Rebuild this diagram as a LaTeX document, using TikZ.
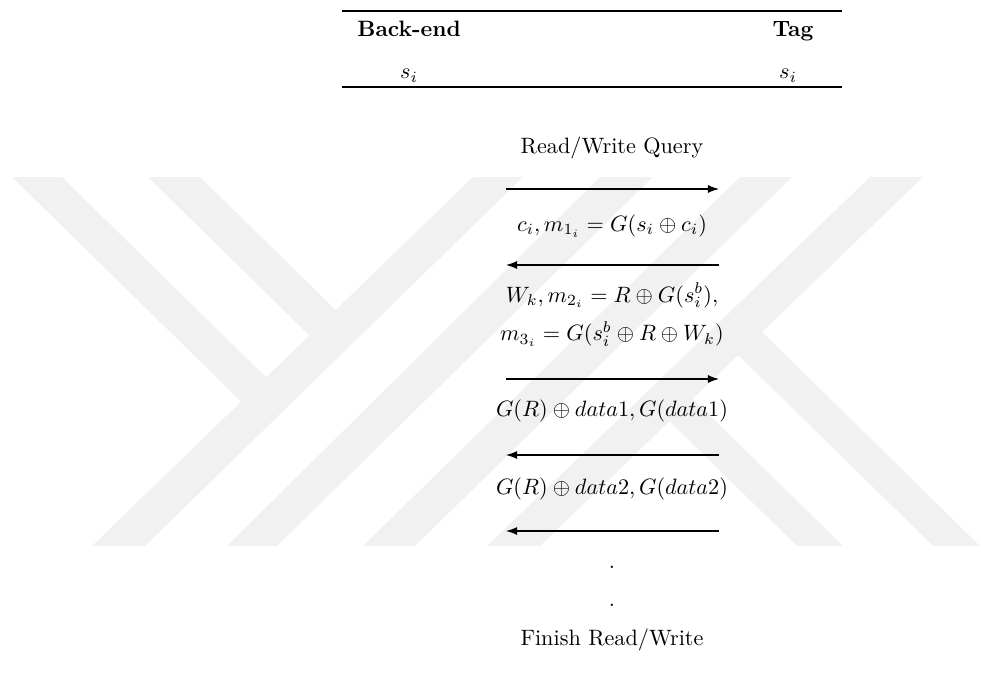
\documentclass[tikz,border=0pt]{standalone}
\usetikzlibrary{arrows.meta}
\definecolor{wm}{RGB}{241,241,241}
\begin{document}
\begin{tikzpicture}[x=0.45pt,y=-0.45pt,
  msg/.style={line width=0.5pt,-{Latex[length=5pt,width=3.6pt]}},
  lbl/.style={anchor=base,inner sep=0pt,outer sep=0pt},
  rulel/.style={line width=0.8pt},
  wmark/.style={fill=wm,draw=none}]
\useasboundingbox (0,0) rectangle (981,689);
% watermark
\fill[wmark] (92,546) -- (145,546) -- (523,177) -- (473,177) -- cycle;
\fill[wmark] (227,546) -- (277,546) -- (653,177) -- (600,177) -- cycle;
\fill[wmark] (363,546) -- (415,546) -- (792,177) -- (740,177) -- cycle;
\fill[wmark] (487,546) -- (540,546) -- (923,177) -- (870,177) -- cycle;
\fill[wmark] (12,177) -- (62,177) -- (289,400) -- (260,420) -- cycle;
\fill[wmark] (148,177) -- (200,177) -- (346,320) -- (314,340) -- cycle;
\fill[wmark] (933,546) -- (980,546) -- (750,320) -- (728,345) -- cycle;
\fill[wmark] (797,546) -- (843,546) -- (684,390) -- (663,415) -- cycle;
% table
\coordinate (tl) at (342,11); \coordinate (tr) at (842,11);
\coordinate (bl) at (342,87); \coordinate (br) at (842,87);
\draw[rulel] (tl) -- (tr);
\draw[rulel] (bl) -- (br);
\node[lbl] (hb) at (409,36.5) {\textbf{Back-end}};
\node[lbl] (ht) at (793,36.5) {\textbf{Tag}};
\node[lbl] (sb) at (409,79) {$s_i$};
\node[lbl] (st) at (788,79) {$s_i$};
% messages
\node[lbl] (q) at (612,153) {Read/Write Query};
\coordinate (a1l) at (506,189); \coordinate (a1r) at (719,189);
\draw[msg] (a1l) -- (a1r);
\node[lbl] (m1) at (612,231.5) {$c_i, m_{1_i} = G(s_i \oplus c_i)$};
\coordinate (a2l) at (506,265); \coordinate (a2r) at (719,265);
\draw[msg] (a2r) -- (a2l);
\node[lbl] (m2) at (612,302) {\def\arraystretch{1.46}\begin{tabular}[t]{@{}c@{}}$W_k, m_{2_i} = R \oplus G(s_i^b),$\\ $m_{3_i} = G(s_i^b \oplus R \oplus W_k)$\end{tabular}};
\coordinate (a3l) at (506,379); \coordinate (a3r) at (719,379);
\draw[msg] (a3l) -- (a3r);
\node[lbl] (m3) at (612,416.5) {$G(R) \oplus data1, G(data1)$};
\coordinate (a4l) at (506,455); \coordinate (a4r) at (719,455);
\draw[msg] (a4r) -- (a4l);
\node[lbl] (m4) at (612,494) {$G(R) \oplus data2, G(data2)$};
\coordinate (a5l) at (506,531); \coordinate (a5r) at (719,531);
\draw[msg] (a5r) -- (a5l);
\node[lbl] (d1) at (612,568) {.};
\node[lbl] (d2) at (612,606) {.};
\node[lbl] (fin) at (612,645) {Finish Read/Write};
\end{tikzpicture}
\end{document}
